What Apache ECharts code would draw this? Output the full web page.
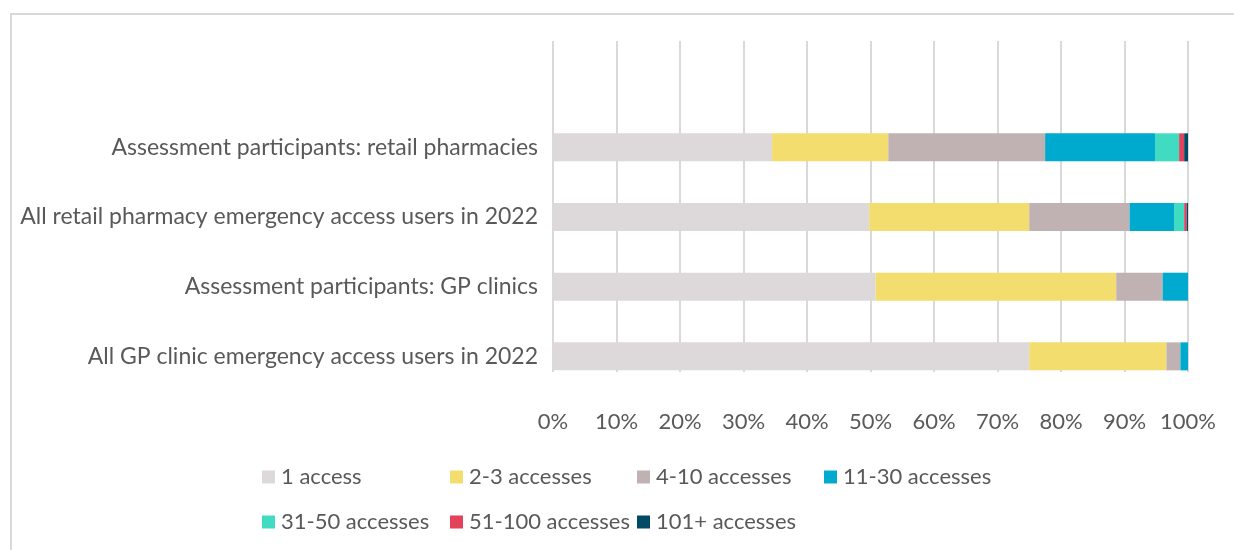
<!DOCTYPE html>
<html>
<head>
<meta charset="utf-8">
<script src="https://cdn.jsdelivr.net/npm/echarts@6/dist/echarts.min.js"></script>
<style>
  html, body { margin: 0; padding: 0; background: #ffffff; }
  #chart { width: 1234px; height: 550px; }
</style>
</head>
<body>
<div id="chart"></div>
<script>
// Groups, bottom to top as the category axis stacks them
const categories = [
  'All GP clinic emergency access users in 2022',
  'Assessment participants: GP clinics',
  'All retail pharmacy emergency access users in 2022',
  'Assessment participants: retail pharmacies'
];

// Share of users (%) by number of emergency accesses
const oneAccess      = [75.0, 50.8, 49.8, 34.5];
const twoToThree     = [21.6, 37.9, 25.2, 18.3];
const fourToTen      = [2.2, 7.3, 15.8, 24.7];
const elevenToThirty = [1.2, 4.0, 7.0, 17.3];
const thirtyOneToFifty = [0, 0, 1.6, 3.8];
const fiftyOneToHundred = [0, 0, 0.4, 0.8];
const overHundred    = [0, 0, 0.2, 0.6];

const seriesNames = ['1 access', '2-3 accesses', '4-10 accesses', '11-30 accesses',
                     '31-50 accesses', '51-100 accesses', '101+ accesses'];
const seriesValues = [oneAccess, twoToThree, fourToTen, elevenToThirty,
                      thirtyOneToFifty, fiftyOneToHundred, overHundred];
const seriesColors = ['#DDD9DA', '#F2DD6E', '#C0B1B3', '#00AACE', '#40DBC0', '#E3425B', '#004A66'];

const tickValues = [0, 10, 20, 30, 40, 50, 60, 70, 80, 90, 100];

const FONT = 'Lato';
const TEXT = '#595959';

// Legend layout: four columns on the first row, three on the second
const legendSlots = [
  [262, 466], [450, 466], [637, 466], [824, 466],
  [262, 511], [450, 511], [637, 511]
];

const chart = echarts.init(document.getElementById('chart'), null, { renderer: 'canvas' });

const option = {
  backgroundColor: '#ffffff',
  animation: false,
  textStyle: { fontFamily: FONT },
  graphic: [{
    type: 'polyline',
    silent: true,
    shape: { points: [[11, 550], [11, 14], [1234, 14]] },
    style: { stroke: '#D9D9D9', lineWidth: 2, fill: null }
  }],
  legend: seriesNames.map((name, i) => ({
    data: [name],
    left: legendSlots[i][0],
    top: legendSlots[i][1],
    padding: 0,
    icon: 'rect',
    itemWidth: 13,
    itemHeight: 13,
    itemGap: 0,
    selectedMode: false,
    textStyle: { fontFamily: FONT, fontSize: 22, color: TEXT, padding: [0, 0, 0, 1] }
  })),
  grid: [
    // value-axis frame with gridlines and percent labels
    { left: 553, right: 46, top: 41, bottom: 178, containLabel: false },
    // bar area
    { left: 553, right: 46, top: 112.5, bottom: 158.8, containLabel: false }
  ],
  xAxis: [
    {
      gridIndex: 0,
      type: 'value',
      min: tickValues[0],
      max: tickValues[tickValues.length - 1],
      interval: tickValues[1] - tickValues[0],
      axisLine: { show: false },
      axisTick: { show: false },
      splitLine: { show: true, lineStyle: { color: '#D9D9D9', width: 2 } },
      axisLabel: {
        formatter: '{value}%',
        fontFamily: FONT,
        fontSize: 22,
        color: TEXT,
        margin: 39
      }
    },
    {
      gridIndex: 1,
      type: 'value',
      min: 0,
      max: 100,
      show: false
    }
  ],
  yAxis: [
    { gridIndex: 0, type: 'value', show: false, min: 0, max: 1 },
    {
      gridIndex: 1,
      type: 'category',
      data: categories,
      axisLine: { show: false },
      axisTick: { show: false },
      splitLine: { show: false },
      axisLabel: {
        fontFamily: FONT,
        fontSize: 23,
        color: TEXT,
        margin: 15
      }
    }
  ],
  series: seriesNames.map((name, i) => ({
    name: name,
    type: 'bar',
    xAxisIndex: 1,
    yAxisIndex: 1,
    stack: 'share',
    barWidth: 28,
    itemStyle: { color: seriesColors[i] },
    data: seriesValues[i]
  }))
};

chart.setOption(option);
</script>
</body>
</html>
